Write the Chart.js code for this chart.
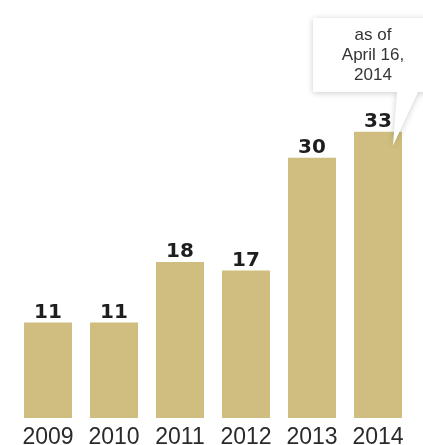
<!DOCTYPE html>
<html>
<head>
<meta charset="utf-8">
<script src="https://cdn.jsdelivr.net/npm/chart.js@4"></script>
<style>
  html, body { margin: 0; padding: 0; background: #fff; }
  #wrap { position: relative; width: 423px; height: 445px; }
</style>
</head>
<body>
<div id="wrap"><canvas id="chart"></canvas></div>
<script>
const years  = ['2009', '2010', '2011', '2012', '2013', '2014'];
const counts = [11, 11, 18, 17, 30, 33];
const note   = ['as of', 'April 16,', '2014'];

// value labels above each bar
const valueLabels = {
  id: 'valueLabels',
  afterDatasetsDraw(chart) {
    const ctx = chart.ctx;
    const meta = chart.getDatasetMeta(0);
    ctx.save();
    ctx.font = 'bold 20px "DejaVu Sans"';
    ctx.fillStyle = '#1e1e1e';
    ctx.textAlign = 'center';
    ctx.textBaseline = 'alphabetic';
    meta.data.forEach((bar, i) => {
      ctx.fillText(String(counts[i]), bar.x, bar.y - 5);
    });
    ctx.restore();
  }
};

// callout box pointing at the last bar
const callout = {
  id: 'callout',
  afterDraw(chart) {
    const ctx = chart.ctx;
    const meta = chart.getDatasetMeta(0);
    const last = meta.data[meta.data.length - 1];
    const left = 313, top = 18, right = 428, bottom = 92;
    const tipX = last.x + 15, tipY = last.y + 14;
    ctx.save();
    ctx.shadowColor = 'rgba(0,0,0,0.2)';
    ctx.shadowBlur = 6;
    ctx.shadowOffsetX = 0;
    ctx.shadowOffsetY = 1;
    ctx.fillStyle = '#fff';
    ctx.beginPath();
    ctx.moveTo(left, top);
    ctx.lineTo(right, top);
    ctx.lineTo(right, bottom);
    ctx.lineTo(418, bottom);
    ctx.lineTo(tipX, tipY);
    ctx.lineTo(397, bottom);
    ctx.lineTo(left, bottom);
    ctx.closePath();
    ctx.fill();
    ctx.restore();

    ctx.save();
    ctx.font = '17px "Liberation Sans"';
    ctx.fillStyle = '#333';
    ctx.textAlign = 'center';
    ctx.textBaseline = 'alphabetic';
    note.forEach((line, i) => ctx.fillText(line, 373, 40 + i * 20));
    ctx.restore();
  }
};

new Chart(document.getElementById('chart'), {
  type: 'bar',
  data: {
    labels: years,
    datasets: [{
      data: counts,
      backgroundColor: '#cfbe7f',
      borderWidth: 0,
      barPercentage: 0.727,
      categoryPercentage: 1
    }]
  },
  options: {
    responsive: true,
    maintainAspectRatio: false,
    animation: false,
    events: [],
    layout: { padding: { left: 15, right: 12, top: 0, bottom: 0 } },
    plugins: { legend: { display: false }, tooltip: { enabled: false } },
    scales: {
      x: {
        grid: { display: false, drawTicks: false },
        border: { display: false },
        ticks: { color: '#2a2a2a', font: { family: 'Liberation Sans', size: 23 }, padding: 6, maxRotation: 0, autoSkip: false },
        afterFit(scale) { scale.height = 27; }
      },
      y: {
        display: false,
        min: 0,
        max: 48.2
      }
    }
  },
  plugins: [valueLabels, callout]
});
</script>
</body>
</html>
